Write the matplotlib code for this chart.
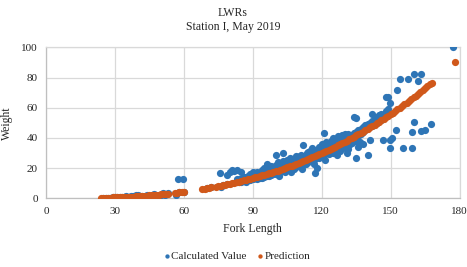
import matplotlib
matplotlib.use("Agg")
from matplotlib import pyplot as plt

# orange prediction curve
pred_len = [24, 25, 26, 27, 28, 29, 30, 31, 32, 33, 34, 35, 36, 37, 38, 39, 40,
            41, 42, 43, 44, 45, 46, 47, 48, 49, 50, 51, 52, 53, 56, 57, 58, 59, 60,
            68, 69, 70, 71, 72, 74, 75, 76, 77, 78, 79, 80, 81, 82, 83, 84, 85, 86,
            87, 88, 89, 90, 91, 92, 93, 94, 95, 96, 97, 98, 99, 100, 101, 102, 103,
            104, 105, 106, 107, 108, 109, 110, 111, 112, 113, 114, 115, 116, 117,
            118, 119, 120, 121, 122, 123, 124, 125, 126, 127, 128, 129, 130, 131,
            132, 133, 134, 135, 136, 137, 138, 139, 140, 141, 142, 143, 144, 145,
            146, 147, 148, 149, 150, 151, 152, 153, 154, 155, 156, 157, 158, 159,
            160, 161, 162, 163, 164, 165, 166, 167, 168, 178]
pred_wt = [0.33, 0.37, 0.41, 0.46, 0.51, 0.56, 0.62, 0.67, 0.74, 0.80, 0.87, 0.95,
           1.03, 1.11, 1.19, 1.28, 1.38, 1.47, 1.58, 1.69, 1.80, 1.92, 2.04, 2.16,
           2.30, 2.43, 2.58, 2.73, 2.87, 3.03, 3.53, 3.72, 3.90, 4.10, 4.30,
           6.1, 6.35, 6.6, 6.9, 7.16, 7.72, 8.0, 8.3, 8.6, 8.9, 9.3, 9.6, 9.9, 10.3,
           10.6, 11.0, 11.4, 11.8, 12.1, 12.6, 12.9, 13.3, 13.8, 14.2, 14.6, 15.1,
           15.5, 16.0, 16.5, 17.0, 17.5, 17.9, 18.4, 19.0, 19.5, 20.0, 20.6, 21.1,
           21.7, 22.3, 22.8, 23.4, 24.0, 24.7, 25.3, 25.9, 26.5, 27.2, 27.9, 28.5,
           29.2, 29.8, 30.6, 31.3, 32.1, 32.8, 33.5, 34.3, 35.1, 35.9, 36.7, 37.4,
           38.2, 39.1, 39.9, 40.7, 41.6, 42.5, 43.3, 44.2, 45.1, 46.0, 47.0, 47.9,
           48.8, 49.8, 50.8, 51.7, 52.7, 53.7, 54.7, 55.8, 56.8, 57.8, 58.9, 60.0,
           61.1, 62.2, 63.3, 64.4, 65.6, 66.8, 68.0, 69.2, 70.4, 71.6, 72.8, 74.1,
           75.4, 76.5, 90.0]

# blue calculated values
calc_len = [25, 26, 27, 28, 29, 30, 30, 31, 32, 33, 34, 35, 36, 37, 38, 39, 40, 41,
            42, 43, 44, 45, 46, 47, 48, 49, 50, 51, 52, 53, 56.5, 57.5, 59.5, 58, 60,
            70, 72, 75.6, 76, 77, 79, 79, 80, 81, 82, 83, 83,
            83, 84, 84, 85, 85, 85, 86, 86, 87, 87, 87, 88, 88, 89, 89, 89, 90, 90, 90,
            91, 91, 92, 92, 92, 93, 93, 94, 94, 94, 95, 95, 95, 96, 96, 96, 97, 97, 97,
            98, 98, 98, 99, 99, 99, 100, 100, 100, 100, 101, 101, 101, 102, 102, 102,
            103, 103, 103, 103, 104, 104, 104, 105, 105, 105, 106, 106, 106, 107, 107,
            107, 108, 108, 108, 109, 109, 109, 110, 110, 110, 111, 111, 111, 112, 112,
            112, 113, 113, 113, 114, 114, 114, 115, 115, 115, 116, 116, 116, 117, 117,
            117, 118, 118, 118, 119, 119, 119, 120, 120, 120, 121, 121, 121, 121, 122,
            122, 122, 123, 123, 123, 124, 124, 124, 125, 125, 125, 125, 126, 126, 126,
            127, 127, 127, 128, 128, 128, 128, 129, 129, 129, 130, 130, 130, 130, 131,
            131, 131, 132, 132, 132, 133, 133, 133, 134, 134, 134, 135, 135, 135, 135,
            136, 136, 136, 137, 137, 138, 138, 138, 139, 139, 140, 140, 140, 141, 141,
            142, 142, 142, 143, 144, 144, 145, 146, 146, 146.8, 148, 148, 149, 149,
            149.6, 149.6, 149.6, 150.8, 152.5, 152.8, 154, 155.6, 157.5, 159.3, 159.3,
            160.4, 160.4, 162, 163.3, 163.3, 165, 167.7, 177,
            95.5, 98.5, 101.5, 104.5, 107.5, 110.5, 113.5, 116.5, 119.5, 122.5, 125.5,
            128.5, 131.5, 101.5, 106.5, 111.5, 116.5, 121.5, 126.5, 131.5, 136.5]
calc_wt = [0.3, 0.2, 0.5, 0.4, 0.6, 0.5, 0.9, 0.8, 0.6, 1.1, 0.9, 1.3, 1.0, 1.5, 1.2,
           2.0, 2.4, 1.4, 1.8, 1.5, 2.1, 1.6, 1.9, 2.6, 1.8, 2.5, 2.0, 3.2, 2.4, 3.4,
           2.0, 13.0, 13.0, 4.0, 4.5, 6.5, 7.5, 17.0, 7.5, 8.5, 15.5, 9.5, 17.5, 18.5,
           18.0, 10.5, 12.5,
           18.9, 11.0, 13.0, 10.8, 12.8, 17.6, 11.5, 14.0, 12.0, 13.8, 10.9, 12.2, 15.0,
           13.0, 11.8, 16.0, 14.5, 12.5, 17.6, 13.5, 15.8, 14.0, 12.8, 17.5, 15.0, 13.2,
           15.8, 13.5, 19.0, 16.0, 14.0, 20.0, 17.5, 14.5, 23.0, 16.0, 19.0, 14.8, 18.0,
           15.5, 21.5, 17.0, 20.5, 16.0, 18.5, 22.0, 16.0, 28.7, 19.5, 17.0, 24.0, 20.0,
           17.5, 22.5, 21.0, 18.0, 30.0, 25.0, 19.5, 23.0, 17.5, 21.5, 19.0, 25.5, 22.0,
           19.5, 27.0, 23.0, 20.0, 26.0, 22.5, 25.0, 19.5, 24.0, 21.0, 28.0, 24.5, 22.0,
           27.5, 25.0, 21.5, 29.0, 26.0, 23.0, 35.3, 25.5, 28.5, 22.5, 27.0, 24.0, 30.5,
           27.5, 25.0, 31.0, 28.0, 24.5, 33.0, 29.0, 26.0, 16.5, 28.5, 31.5, 19.9, 30.0,
           27.0, 34.0, 30.5, 28.0, 36.0, 31.0, 43.5, 29.0, 34.5, 32.0, 30.0, 37.0, 33.0,
           29.5, 36.5, 34.0, 31.0, 38.0, 34.5, 32.0, 40.0, 30.0, 35.0, 38.5, 33.0, 36.0,
           33.5, 41.0, 37.0, 34.0, 40.5, 31.0, 38.0, 35.5, 42.0, 39.0, 36.0, 42.5, 33.0,
           40.0, 37.5, 30.0, 41.0, 38.0, 35.0, 42.0, 39.0, 36.5, 43.0, 53.6, 40.0, 44.0,
           26.5, 38.0, 53.0, 45.0, 41.0, 34.0, 46.0, 42.5, 47.0, 44.0, 36.0, 48.5, 45.0,
           49.0, 28.7, 46.5, 50.0, 38.6, 51.5, 56.0, 48.0, 52.5, 54.0, 50.0, 55.0, 56.0,
           52.0, 38.6, 67.0, 57.5, 66.9, 59.0, 63.0, 38.6, 33.0, 40.0, 45.0, 71.7, 78.8,
           33.0, 79.0, 33.5, 43.8, 82.0, 50.7, 78.0, 82.0, 44.5, 45.0, 49.5, 100.0,
           19.0, 20.5, 22.5, 24.0, 26.0, 28.0, 30.0, 32.0, 33.5, 35.5, 37.5,
           40.0, 42.5, 14.5, 17.5, 19.5, 22.5, 25.5, 28.5, 32.5, 37.0]

x_ticks = [0, 30, 60, 90, 120, 150, 180]
y_ticks = [0, 20, 40, 60, 80, 100]

blue = "#2E75B6"
orange = "#D0581A"
grid_col = "#D9D9D9"
text_col = "#262626"

plt.rcParams["font.family"] = ["Liberation Serif", "DejaVu Serif"]

W, H = 467, 267
fig = plt.figure(figsize=(W / 100, H / 100), dpi=100)
ax = fig.add_axes([46 / W, 1 - 198.3 / H, 413.5 / W, 151 / H])

ax.scatter(calc_len, calc_wt, s=27, color=blue, linewidths=0, label="Calculated Value", zorder=3)
ax.scatter(pred_len, pred_wt, s=27, color=orange, linewidths=0, label="Prediction", zorder=4)

ax.set_xlim(0, 180)
ax.set_ylim(0, 100)
ax.set_xticks(x_ticks)
ax.set_yticks(y_ticks)
ax.tick_params(length=0, labelsize=8, colors=text_col, pad=6)
ax.grid(True, color=grid_col, linewidth=0.9)
ax.set_axisbelow(True)
for side in ax.spines:
    ax.spines[side].set_color(grid_col)
    ax.spines[side].set_linewidth(0.9)
ax.spines["left"].set_color("#BFBFBF")
ax.spines["bottom"].set_color("#BFBFBF")

ax.set_xlabel("Fork Length", fontsize=8.5, color=text_col, labelpad=5)
ax.set_ylabel("Weight", fontsize=8.5, color=text_col)
ax.yaxis.set_label_coords(-33 / 414, 0.5)

fig.text(233 / W, 1 - 13 / H, "LWRs", ha="center", va="center", fontsize=8.5, color=text_col)
fig.text(233 / W, 1 - 27 / H, "Station I, May 2019", ha="center", va="center",
         fontsize=8.5, color=text_col)

fig.legend(loc="center", bbox_to_anchor=(237 / W, 1 - 256 / H), ncol=2, frameon=False,
           fontsize=8, markerscale=0.6, handlelength=0.6, handletextpad=0.1,
           columnspacing=0.9, labelcolor=text_col)

fig.savefig("out.png", dpi=100)
